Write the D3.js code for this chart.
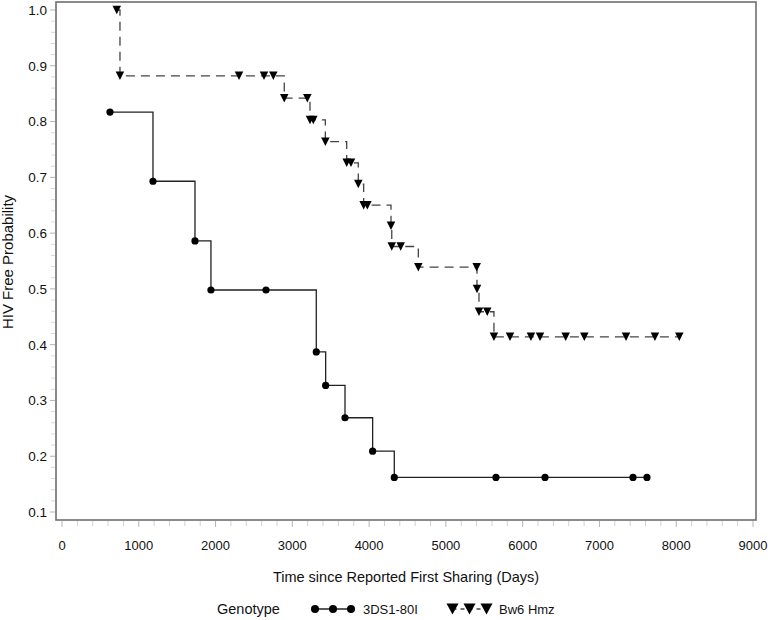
<!DOCTYPE html>
<html>
<head>
<meta charset="utf-8">
<script src="https://cdn.jsdelivr.net/npm/d3@7"></script>
<style>
  body { margin: 0; background: #fff; }
  svg { display: block; font-family: "Liberation Sans", Arial, sans-serif; }
</style>
</head>
<body>
<svg id="chart" width="768" height="620"></svg>
<script>
// ---- data ----
const seriesNames = ["3DS1-80I", "Bw6 Hmz"];
const legendTitle = "Genotype";
const xTitle = "Time since Reported First Sharing (Days)";
const yTitle = "HIV Free Probability";
const xTicks = [0, 1000, 2000, 3000, 4000, 5000, 6000, 7000, 8000, 9000];
const yTicks = [0.1, 0.2, 0.3, 0.4, 0.5, 0.6, 0.7, 0.8, 0.9, 1.0];

// 3DS1-80I : [days, probability]
const kir3ds1 = [
  [625, 0.817], [1185, 0.693], [1732, 0.586], [1940, 0.498], [2657, 0.498],
  [3312, 0.387], [3434, 0.327], [3686, 0.269], [4046, 0.209], [4328, 0.162],
  [5652, 0.162], [6291, 0.162], [7437, 0.162], [7619, 0.162]
];
// Bw6 Hmz : [days, probability]
const bw6 = [
  [713, 1.0], [755, 0.882], [2305, 0.882], [2631, 0.882], [2752, 0.882],
  [2895, 0.842], [3195, 0.842], [3230, 0.803], [3273, 0.803], [3430, 0.764],
  [3708, 0.726], [3764, 0.726], [3859, 0.688], [3929, 0.650], [3977, 0.650],
  [4285, 0.613], [4295, 0.576], [4411, 0.576], [4641, 0.539], [5401, 0.539],
  [5405, 0.500], [5431, 0.459], [5539, 0.459], [5626, 0.414], [5835, 0.414],
  [6108, 0.414], [6226, 0.414], [6560, 0.414], [6803, 0.414], [7346, 0.414],
  [7723, 0.414], [8040, 0.414]
];

// ---- layout ----
const svg = d3.select("#chart");
const frame = { left: 56, top: 2, right: 756, bottom: 520 };
const x = d3.scaleLinear().domain([0, 9000]).range([62, 753]);
const y = d3.scaleLinear().domain([0.1, 1.0]).range([512, 10]);

// frame
svg.append("rect")
  .attr("x", frame.left).attr("y", frame.top)
  .attr("width", frame.right - frame.left).attr("height", frame.bottom - frame.top)
  .attr("fill", "none").attr("stroke", "#6e6e6e").attr("stroke-width", 1.6);

// x axis
const xMinor = d3.range(0, 9001, 200).filter(v => v % 1000 !== 0);
const xAxis = svg.append("g").attr("transform", `translate(0,${frame.bottom})`);
xAxis.selectAll("line.major").data(xTicks).join("line")
  .attr("x1", d => x(d)).attr("x2", d => x(d)).attr("y1", 1).attr("y2", 7)
  .attr("stroke", "#b5b5b5");
xAxis.selectAll("line.minor").data(xMinor).join("line")
  .attr("x1", d => x(d)).attr("x2", d => x(d)).attr("y1", 1).attr("y2", 6)
  .attr("stroke", "#d0d0d0");
xAxis.selectAll("text").data(xTicks).join("text")
  .attr("x", d => x(d)).attr("y", 30)
  .attr("text-anchor", "middle").attr("font-size", 13).attr("fill", "#111")
  .text(d => d);

// y axis
const yMinor = d3.range(10, 101, 2).filter(v => v % 10 !== 0).map(v => v / 100);
const yAxis = svg.append("g").attr("transform", `translate(${frame.left},0)`);
yAxis.selectAll("line.major").data(yTicks).join("line")
  .attr("x1", -6).attr("x2", -1).attr("y1", d => y(d)).attr("y2", d => y(d))
  .attr("stroke", "#b5b5b5");
yAxis.selectAll("line.minor").data(yMinor).join("line")
  .attr("x1", -5).attr("x2", -1).attr("y1", d => y(d)).attr("y2", d => y(d))
  .attr("stroke", "#d8d8d8");
yAxis.selectAll("text").data(yTicks).join("text")
  .attr("x", -9).attr("y", d => y(d)).attr("dy", "0.36em")
  .attr("text-anchor", "end").attr("font-size", 13.5).attr("fill", "#111")
  .text(d => d.toFixed(1));

// titles
svg.append("text").attr("x", 406).attr("y", 582)
  .attr("text-anchor", "middle").attr("font-size", 14.5).attr("fill", "#111").text(xTitle);
svg.append("text").attr("transform", "translate(13,262) rotate(-90)")
  .attr("text-anchor", "middle").attr("font-size", 15).attr("fill", "#111").text(yTitle);

// curves
const line = d3.line().x(d => x(d[0])).y(d => y(d[1])).curve(d3.curveStepAfter);
svg.append("path").datum(kir3ds1).attr("d", line)
  .attr("fill", "none").attr("stroke", "#222").attr("stroke-width", 1.3);
svg.append("path").datum(bw6).attr("d", line)
  .attr("fill", "none").attr("stroke", "#444").attr("stroke-width", 1.3)
  .attr("stroke-dasharray", "9,6");

// markers
svg.append("g").selectAll("circle").data(kir3ds1).join("circle")
  .attr("cx", d => x(d[0])).attr("cy", d => y(d[1])).attr("r", 3.6).attr("fill", "#000");

const tri = (cx, cy, w, h) =>
  `M${cx - w / 2},${cy - h / 2}L${cx + w / 2},${cy - h / 2}L${cx},${cy + h / 2}Z`;
svg.append("g").selectAll("path").data(bw6).join("path")
  .attr("d", d => tri(x(d[0]), y(d[1]), 8.5, 8.5)).attr("fill", "#000");

// legend
const lg = svg.append("g");
const ly = 609;
lg.append("text").attr("x", 217).attr("y", ly + 4.5).attr("font-size", 14.5).attr("fill", "#111").text(legendTitle);
const cx = [315, 333, 351];
lg.append("line").attr("x1", cx[0]).attr("x2", cx[2]).attr("y1", ly).attr("y2", ly)
  .attr("stroke", "#222").attr("stroke-width", 1.3);
lg.selectAll("circle").data(cx).join("circle")
  .attr("cx", d => d).attr("cy", ly).attr("r", 4).attr("fill", "#000");
lg.append("text").attr("x", 363).attr("y", ly + 4.5).attr("font-size", 13).attr("fill", "#111").text(seriesNames[0]);
const tx = [452.5, 469.5, 486.5];
lg.append("line").attr("x1", tx[0]).attr("x2", tx[2]).attr("y1", ly).attr("y2", ly)
  .attr("stroke", "#444").attr("stroke-width", 1.3).attr("stroke-dasharray", "4,4");
lg.selectAll("path").data(tx).join("path")
  .attr("d", d => tri(d, ly, 12, 11)).attr("fill", "#000");
lg.append("text").attr("x", 499).attr("y", ly + 4.5).attr("font-size", 13).attr("fill", "#111").text(seriesNames[1]);
</script>
</body>
</html>
